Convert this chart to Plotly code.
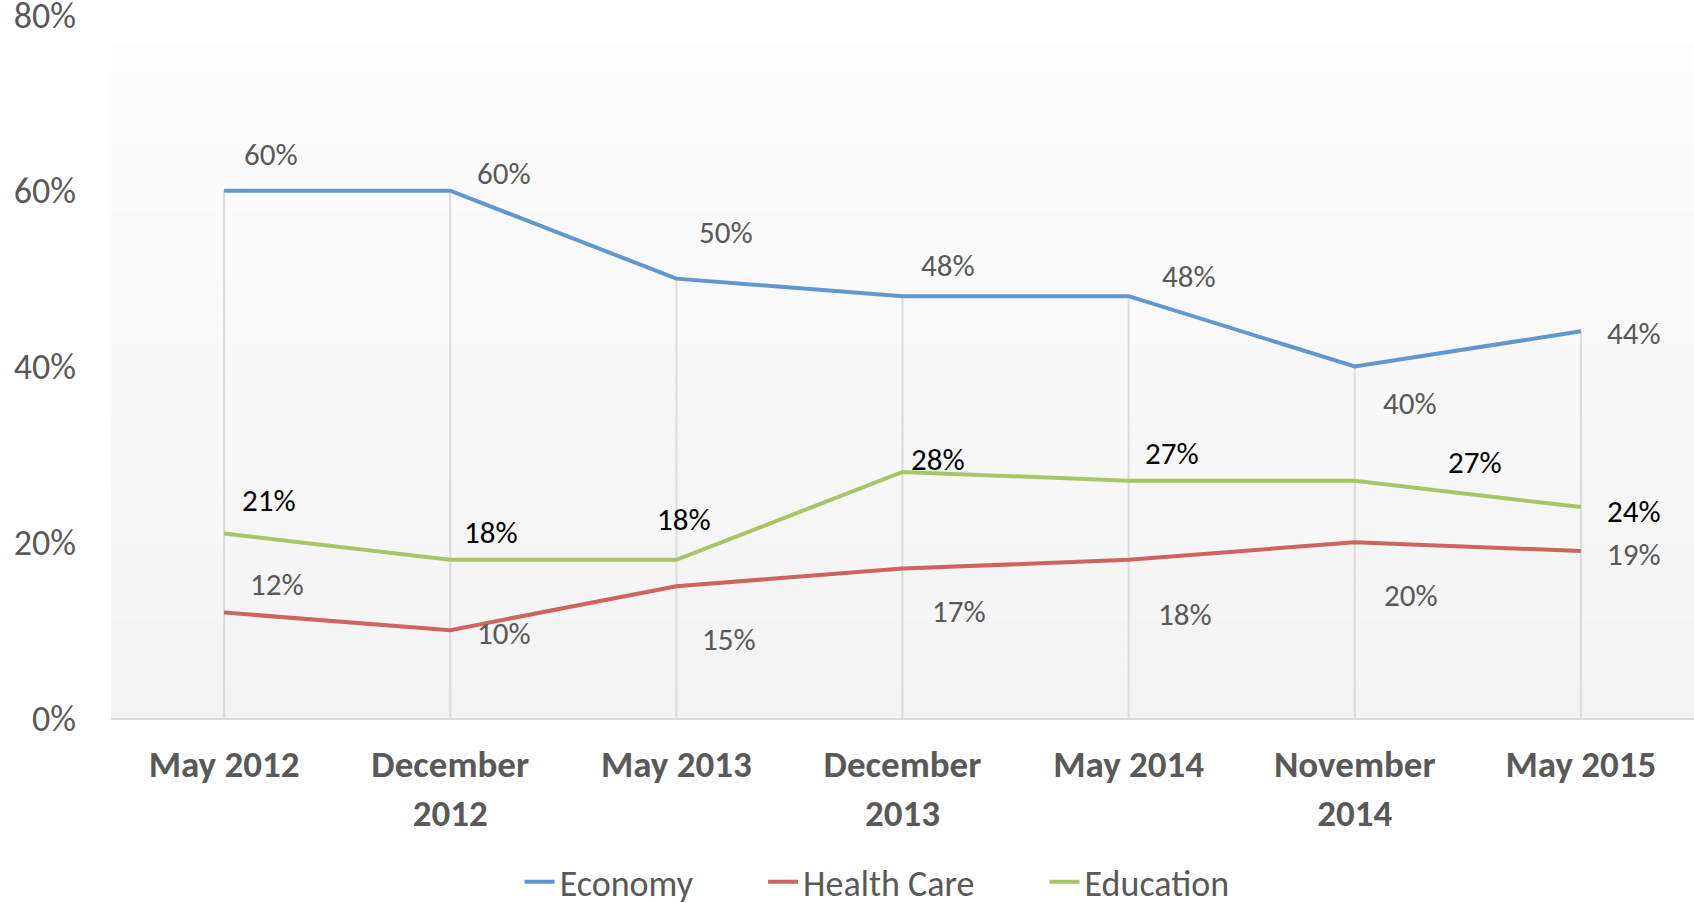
import plotly.graph_objects as go

categories = ["May 2012", "December<br>2012", "May 2013", "December<br>2013",
              "May 2014", "November<br>2014", "May 2015"]
economy = [0.60, 0.60, 0.50, 0.48, 0.48, 0.40, 0.44]
health_care = [0.12, 0.10, 0.15, 0.17, 0.18, 0.20, 0.19]
education = [0.21, 0.18, 0.18, 0.28, 0.27, 0.27, 0.24]
y_ticks = [0, 0.2, 0.4, 0.6, 0.8]

FONT = "Carlito, Lato, 'Open Sans', sans-serif"
GRAY = "#595959"

series = [
    ("Economy", economy, "#5f97d0", GRAY),
    ("Health Care", health_care, "#d0635c", GRAY),
    ("Education", education, "#a8c566", "#000000"),
]

# label offsets (px) per point: (dx, dy) with dy positive = upward
offsets = {
    "Economy": [(47, 37), (54, 18), (50, 47), (45, 31), (60, 20), (55, -36), (53, -2)],
    "Health Care": [(53, 29), (54, -3), (53, -53), (56, -42), (56, -54), (56, -53), (53, -3)],
    "Education": [(45, 33), (41, 28), (8, 41), (35, 13), (43, 28), (120, 19), (53, -4)],
}

fig = go.Figure()

# drop lines from highest point down to axis
dx, dy = [], []
for i, c in enumerate(categories):
    top = max(economy[i], health_care[i], education[i])
    dx += [c, c, None]
    dy += [0, top, None]
fig.add_trace(go.Scatter(x=dx, y=dy, mode="lines", line=dict(color="#dcdcdc", width=2),
                         showlegend=False, hoverinfo="skip"))

pad = "\u00a0" * 8
for k, (name, vals, color, _) in enumerate(series):
    label = name + (pad if k < len(series) - 1 else "")
    fig.add_trace(go.Scatter(x=categories, y=vals, mode="lines", name=label,
                             line=dict(color=color, width=4)))

annotations = []
for name, vals, color, tcolor in series:
    for i, (c, v) in enumerate(zip(categories, vals)):
        ox, oy = offsets[name][i]
        annotations.append(dict(x=c, y=v, text=f"{round(v*100)}%", showarrow=False,
                                xshift=ox, yshift=oy,
                                font=dict(family=FONT, size=31, color=tcolor)))

# gradient background bands
shapes = []
n = 40
top_y = 0.962
c_top = (253, 253, 253)
c_bot = (243, 243, 243)
for k in range(n):
    t = k / (n - 1)
    col = tuple(round(c_bot[j] + (c_top[j] - c_bot[j]) * t) for j in range(3))
    shapes.append(dict(type="rect", xref="paper", yref="paper", x0=0, x1=1,
                       y0=top_y * k / n, y1=top_y * (k + 1) / n,
                       fillcolor="rgb(%d,%d,%d)" % col, line=dict(width=0), layer="below"))

fig.update_layout(
    template="none",
    width=1694, height=903,
    margin=dict(l=111, r=0, t=15, b=185, autoexpand=False),
    paper_bgcolor="white", plot_bgcolor="rgba(0,0,0,0)",
    shapes=shapes, annotations=annotations,
    showlegend=True,
    legend=dict(orientation="h", x=0.484, xanchor="center", y=-0.233, yanchor="middle",
                font=dict(family=FONT, size=36, color=GRAY), bgcolor="rgba(0,0,0,0)"),
    xaxis=dict(type="category", range=[-0.5, 6.5], showgrid=False, showline=True,
               linecolor="#d9d9d9", linewidth=2, automargin=False,
               ticks="", tickfont=dict(family=FONT, size=37, color=GRAY, weight="bold"),
               ticklabelstandoff=13, zeroline=False),
    yaxis=dict(range=[0, 0.8], tickvals=y_ticks, tickformat=".0%", showgrid=False,
               zeroline=False, showline=False, ticks="", automargin=False,
               ticklabeloverflow="allow",
               tickfont=dict(family=FONT, size=36, color=GRAY), ticklabelstandoff=34),
)

fig.write_html("out.html", config={"displayModeBar": False},
               post_script="document.body.style.margin='0';")
